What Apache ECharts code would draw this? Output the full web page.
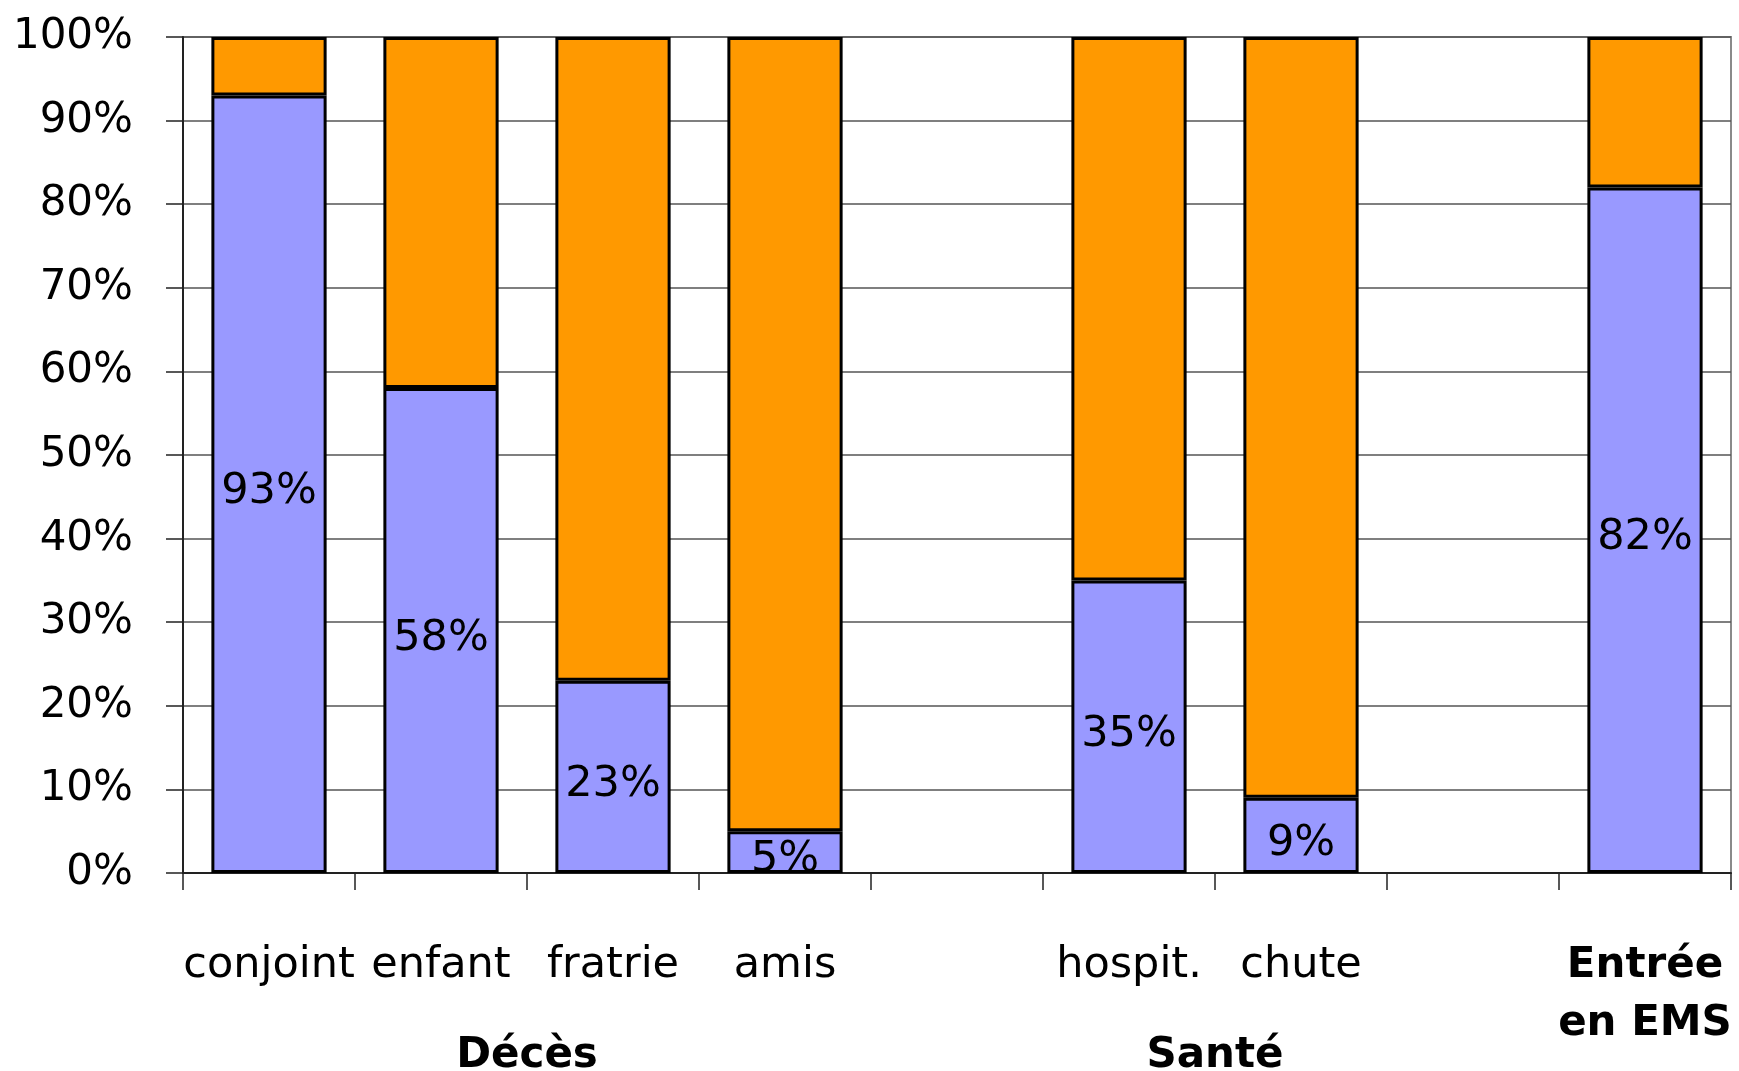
<!DOCTYPE html>
<html>
<head>
<meta charset="utf-8">
<script src="https://cdn.jsdelivr.net/npm/echarts@6/dist/echarts.min.js"></script>
<style>
  html, body { margin: 0; padding: 0; background: #fff; }
  #chart1 { width: 1739px; height: 1071px; }
</style>
</head>
<body>
<div id="chart1"></div>
<script>
// catégories (les vides servent d'espacement entre les groupes)
const categories = ['conjoint', 'enfant', 'fratrie', 'amis', '', 'hospit.', 'chute', '', 'Entrée\nen EMS'];
// part bleue (oui) et part orange (complément)
const ouiValues = [93, 58, 23, 5, '-', 35, 9, '-', 82];
const nonValues = [7, 42, 77, 95, '-', 65, 91, '-', 18];
// groupes sous l'axe
const groups = [
    { name: 'Décès', from: 'conjoint', to: 'amis' },
    { name: 'Santé', from: 'hospit.', to: 'chute' }
];

const FONT = '"Comic Sans MS", "DejaVu Sans", sans-serif';

function initChart() {
    const chart = echarts.init(document.getElementById('chart1'), null, { renderer: 'canvas' });

    const option = {
        animation: false,
        backgroundColor: '#ffffff',
        grid: {
            left: 183, right: 8, top: 37, bottom: 198,
            show: true,
            borderColor: '#8a8a8a',
            borderWidth: 2
        },
        xAxis: {
            type: 'category',
            data: categories,
            axisLine: { lineStyle: { color: '#222', width: 2 } },
            axisTick: { show: true, interval: 0, length: 17, lineStyle: { color: '#222', width: 1.5 } },
            axisLabel: {
                interval: 0,
                margin: 64,
                color: '#000',
                fontFamily: FONT,
                fontSize: 43,
                lineHeight: 58,
                formatter: function (v) {
                    if (v.indexOf('Entrée') === 0) {
                        return v.split('\n').map(s => '{b|' + s + '}').join('\n');
                    }
                    return v;
                },
                rich: {
                    b: { fontFamily: FONT, fontSize: 42, fontWeight: 'bold', lineHeight: 58, color: '#000' }
                }
            }
        },
        yAxis: {
            type: 'value',
            min: 0, max: 100, interval: 10,
            axisLine: { show: true, lineStyle: { color: '#222', width: 2 } },
            axisTick: { show: true, length: 17, lineStyle: { color: '#222', width: 1.5 } },
            axisLabel: {
                margin: 50,
                color: '#000',
                fontFamily: FONT,
                fontSize: 42,
                formatter: '{value}%'
            },
            splitLine: { show: true, lineStyle: { color: '#555', width: 1.5 } }
        },
        series: [
            {
                name: 'oui',
                type: 'bar',
                stack: 'total',
                data: ouiValues,
                barCategoryGap: '33%',
                itemStyle: { color: '#9999FF', borderColor: '#000', borderWidth: 3 },
                label: {
                    show: true,
                    position: 'inside',
                    offset: [0, 8],
                    formatter: '{c}%',
                    color: '#000',
                    fontFamily: FONT,
                    fontSize: 43
                }
            },
            {
                name: 'non',
                type: 'bar',
                stack: 'total',
                data: nonValues,
                barCategoryGap: '33%',
                itemStyle: { color: '#FF9900', borderColor: '#000', borderWidth: 3 }
            }
        ]
    };

    chart.setOption(option);

    // libellés des groupes, centrés sous leurs catégories
    const bottomY = chart.convertToPixel({ yAxisIndex: 0 }, 0);
    const graphics = groups.map(g => {
        const x1 = chart.convertToPixel({ xAxisIndex: 0 }, g.from);
        const x2 = chart.convertToPixel({ xAxisIndex: 0 }, g.to);
        return {
            type: 'text',
            x: (x1 + x2) / 2,
            y: bottomY + 183,
            style: {
                text: g.name,
                fill: '#000',
                font: 'bold 42px ' + FONT,
                textAlign: 'center',
                textVerticalAlign: 'middle'
            }
        };
    });
    chart.setOption({ graphic: graphics });
}

window.addEventListener('load', initChart);
</script>
</body>
</html>
